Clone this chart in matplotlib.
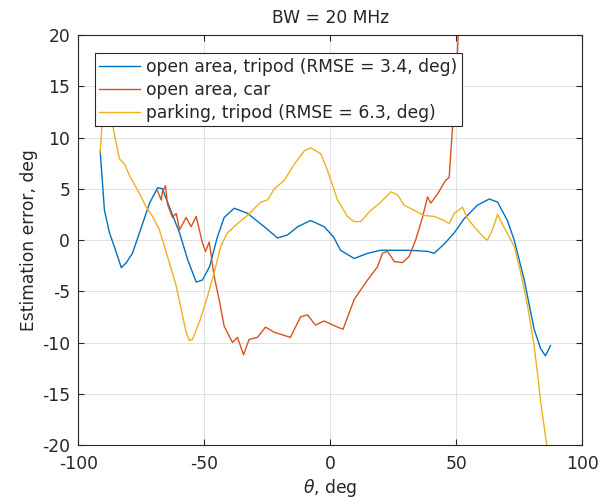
import numpy as np
import matplotlib.pyplot as plt

plt.rcParams['axes.unicode_minus'] = False

# open area, tripod
x_tri = [-91.4, -89.7, -87.7, -85.7, -83, -81, -78.6, -75.8, -71.8, -68.6, -66.7, -63.9,
         -59.9, -56.7, -53.3, -50.8, -48, -45, -42.2, -38.2, -32.9, -26.3, -21, -17, -13,
         -7.9, -2.5, 1.2, 4, 9.4, 14.7, 19.8, 30.6, 38.5, 41.1, 45.1, 49.1, 53.1, 58.3,
         63, 66.3, 70.2, 72.9, 76.9, 80.8, 83.4, 85.3, 87.3]
y_tri = [8.7, 2.9, 0.7, -0.7, -2.7, -2.2, -1.3, 0.7, 3.6, 5.1, 5.0, 3.2,
         0.7, -1.9, -4.1, -3.9, -2.6, 0.2, 2.2, 3.1, 2.6, 1.3, 0.2, 0.5, 1.3,
         1.9, 1.3, 0.3, -1, -1.8, -1.3, -1, -1.0, -1.1, -1.3, -0.4, 0.7, 2.1, 3.4,
         4.0, 3.7, 1.9, 0, -3.9, -8.7, -10.6, -11.3, -10.3]

# open area, car
x_car = [-68.6, -67.2, -66.7, -65.5, -64.7, -62.7, -61.2, -59.9, -57.3, -55.3, -53.3,
         -50.8, -49.6, -48.1, -46.2, -44.2, -42.2, -38.9, -36.9, -34.5, -32.3, -29,
         -25.8, -22.3, -15.9, -11.9, -9.1, -6, -2.5, 2.8, 5, 9.4, 14.7, 18.7, 20.6,
         22.6, 25.3, 28.6, 31.2, 33.8, 36.5, 38.5, 39.8, 42.5, 45.6, 47.1, 48.4, 49.6, 51]
y_car = [4.8, 3.9, 4.7, 5.3, 3.5, 2.2, 2.6, 1.0, 2.2, 1.3, 2.3,
         -0.3, -1.1, -0.2, -3.5, -5.8, -8.4, -10.0, -9.5, -11.2, -9.7, -9.5,
         -8.5, -9, -9.5, -7.5, -7.3, -8.3, -7.9, -8.5, -8.7, -5.8, -3.9, -2.6, -1.3,
         -1.1, -2.1, -2.2, -1.6, 0, 2.2, 4.2, 3.6, 4.5, 5.8, 6.1, 10.9, 13.5, 22]

# parking, tripod
x_park = [-91.4, -90.5, -89.5, -88, -86.5, -85, -83.7, -81.7, -79.8, -77.1, -75.1, -73.1,
          -70.6, -67.9, -64.7, -61.2, -59.2, -57.3, -56, -54.8, -52, -48.8, -46.2,
          -43.5, -40.9, -36.9, -32.9, -27.7, -25, -22.3, -18.4, -14.4, -10.4, -7.8,
          -3.8, -1.2, 2.8, 6.7, 9.4, 12, 16, 20, 24, 26.6, 29.2, 33.2, 37.2, 41.2,
          45.1, 47.1, 49.1, 52.4, 54.4, 57, 61, 62.3, 64.3, 66.3, 68.3, 70.9, 72.9,
          75.5, 78.2, 80.8, 82.1, 83.4, 85.4, 86.5]
y_park = [8.5, 12, 14, 13, 11.3, 9.4, 7.9, 7.4, 6.3, 5.1, 4.2, 3.2,
          2.3, 1.0, -1.6, -4.5, -6.8, -9.0, -9.8, -9.7, -8.0, -5.5, -3.2,
          -0.6, 0.7, 1.6, 2.4, 3.7, 3.9, 5.0, 5.8, 7.4, 8.7, 9.0,
          8.4, 6.8, 3.9, 2.3, 1.8, 1.8, 2.9, 3.7, 4.7, 4.4, 3.4, 2.9, 2.4, 2.3,
          1.9, 1.6, 2.6, 3.2, 2.1, 1.3, 0.2, 0, 1.0, 2.5, 1.5, 0.3, -0.6,
          -3.2, -6.4, -10.3, -12.9, -15.8, -19.3, -21]

txt = '#262626'
fs = 12.3

fig = plt.figure(figsize=(6.01, 4.99), dpi=100)
ax = fig.add_axes([0.1306, 0.1082, 0.8386, 0.8216])

ax.plot(x_tri, y_tri, c='#0072BD', lw=1.0, label='open area, tripod (RMSE = 3.4, deg)')
ax.plot(x_car, y_car, c='#D95319', lw=1.0, label='open area, car')
ax.plot(x_park, y_park, c='#EDB120', lw=1.0, label='parking, tripod (RMSE = 6.3, deg)')

ax.set_xlim([-100, 100])
ax.set_ylim([-20, 20])
ax.set_xticks(np.arange(-100, 101, 50))
ax.set_yticks(np.arange(-20, 21, 5))
ax.grid(True, color='#dcdcdc', lw=0.6)
ax.set_axisbelow(True)
ax.tick_params(direction='in', top=True, right=True, labelsize=fs, length=4,
               colors=txt, labelcolor=txt)
ax.tick_params(axis='x', pad=7)
ax.tick_params(axis='y', pad=6)
for s in ax.spines.values():
    s.set_linewidth(0.8)
    s.set_color(txt)

ax.set_title('BW = 20 MHz', fontsize=fs, pad=9, color=txt)
ax.set_xlabel(r'$\theta$, deg', fontsize=fs, labelpad=3, color=txt)
ax.set_ylabel('Estimation error, deg', fontsize=fs, labelpad=3, color=txt)

leg = ax.legend(loc='upper left', bbox_to_anchor=(0.0327, 0.955), fontsize=fs,
                fancybox=False, framealpha=1, edgecolor=txt,
                borderpad=0.25, labelspacing=0.3, handlelength=2.4, handletextpad=0.35,
                borderaxespad=0)
leg.get_frame().set_linewidth(0.8)
for t in leg.get_texts():
    t.set_color(txt)

fig.savefig('out.png', dpi=100)
